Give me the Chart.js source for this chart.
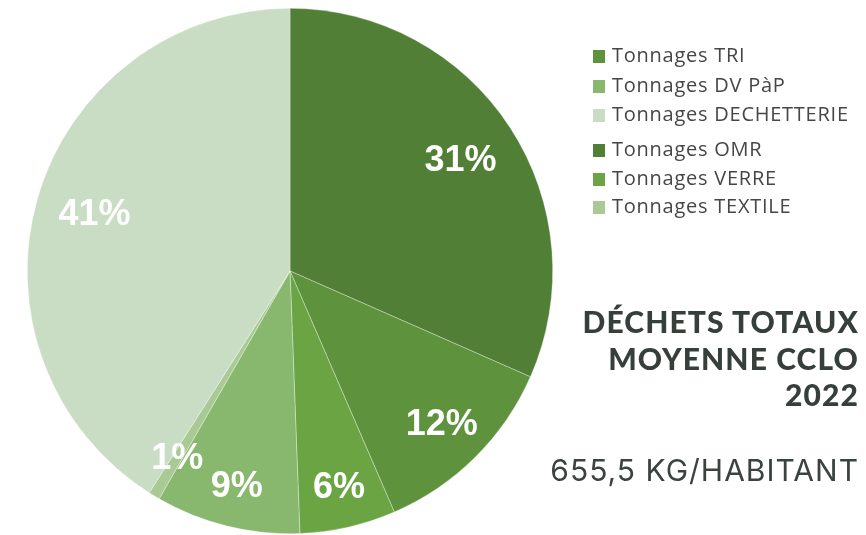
<!DOCTYPE html>
<html>
<head>
<meta charset="utf-8">
<script src="https://cdn.jsdelivr.net/npm/chart.js@4"></script>
<style>
  html, body { margin: 0; padding: 0; background: #fff; }
  #wrap { position: relative; width: 866px; height: 535px; overflow: hidden; }
  #c { position: absolute; left: 0; top: 0; }
  #legend { position: absolute; left: 593px; top: 44px; font-family: "Open Sans", "Liberation Sans", sans-serif; font-size: 20px; color: #464646; }
  .li { position: absolute; left: 0; white-space: nowrap; height: 24px; line-height: 24px; }
  .sw { position: absolute; left: 0; top: 6px; width: 12px; height: 13px; }
  .tx { position: absolute; left: 19px; top: -1px; letter-spacing: 0.75px; }
  #title { position: absolute; right: 8px; top: 303px; text-align: right; font-family: "Lato", "Inter", sans-serif; font-weight: 900; font-size: 30px; line-height: 36.5px; color: #373f3b; letter-spacing: 1.1px; margin-right: -1px; }
  #sub { position: absolute; right: 8px; top: 452px; text-align: right; font-family: "Inter", "Lato", sans-serif; font-weight: 400; font-size: 30px; color: #3b433f; white-space: nowrap; letter-spacing: 1px; margin-right: -1px; }
</style>
</head>
<body>
<div id="wrap">
  <canvas id="c" width="866" height="535"></canvas>
  <div id="legend"></div>
  <div id="title">DÉCHETS TOTAUX<br>MOYENNE CCLO<br>2022</div>
  <div id="sub">655,5 KG/HABITANT</div>
</div>
<script>
// Slice order (clockwise from 12 o'clock)
const categories = ["Tonnages OMR", "Tonnages TRI", "Tonnages VERRE", "Tonnages DV PàP", "Tonnages TEXTILE", "Tonnages DECHETTERIE"];
const shares = [31.6, 11.9, 5.9, 8.9, 0.7, 41.0];
const shareLabels = ["31%", "12%", "6%", "9%", "1%", "41%"];
const legendOrder = ["Tonnages TRI", "Tonnages DV PàP", "Tonnages DECHETTERIE", "Tonnages OMR", "Tonnages VERRE", "Tonnages TEXTILE"];

const colors = ["#517f35", "#5e923d", "#6aa443", "#88b86e", "#a9ca95", "#c9dcc4"];
const labelRadius = [0.775, 0.82, 0.845, 0.845, 0.83, 0.775];
const legendTops = [0, 30, 59, 94, 123, 151];

const pctLabels = {
  id: 'pctLabels',
  afterDatasetsDraw(chart) {
    const ctx = chart.ctx;
    const meta = chart.getDatasetMeta(0);
    ctx.save();
    ctx.fillStyle = '#ffffff';
    ctx.font = 'bold 36px "Liberation Sans", Arial, sans-serif';
    ctx.textAlign = 'center';
    ctx.textBaseline = 'middle';
    meta.data.forEach((arc, i) => {
      const p = arc.getProps(['x', 'y', 'startAngle', 'endAngle', 'outerRadius'], true);
      const mid = (p.startAngle + p.endAngle) / 2;
      const r = p.outerRadius * labelRadius[i];
      ctx.fillText(shareLabels[i], p.x + Math.cos(mid) * r, p.y + Math.sin(mid) * r + 1);
    });
    ctx.restore();
  }
};

const chart = new Chart(document.getElementById('c'), {
  type: 'pie',
  data: {
    labels: categories,
    datasets: [{
      data: shares,
      backgroundColor: colors,
      borderColor: 'rgba(255,255,255,0.55)',
      borderWidth: 0.6
    }]
  },
  options: {
    responsive: false,
    animation: false,
    events: [],
    layout: { padding: { left: 27, right: 313, top: 8, bottom: 1 } },
    plugins: {
      legend: { display: false },
      tooltip: { enabled: false }
    }
  },
  plugins: [pctLabels]
});

const legend = document.getElementById('legend');
legendOrder.forEach((name, k) => {
  const i = chart.data.labels.indexOf(name);
  const row = document.createElement('div');
  row.className = 'li';
  row.style.top = legendTops[k] + 'px';
  const sw = document.createElement('span');
  sw.className = 'sw';
  sw.style.background = chart.data.datasets[0].backgroundColor[i];
  const tx = document.createElement('span');
  tx.className = 'tx';
  tx.textContent = name;
  row.appendChild(sw);
  row.appendChild(tx);
  legend.appendChild(row);
});
</script>
</body>
</html>
